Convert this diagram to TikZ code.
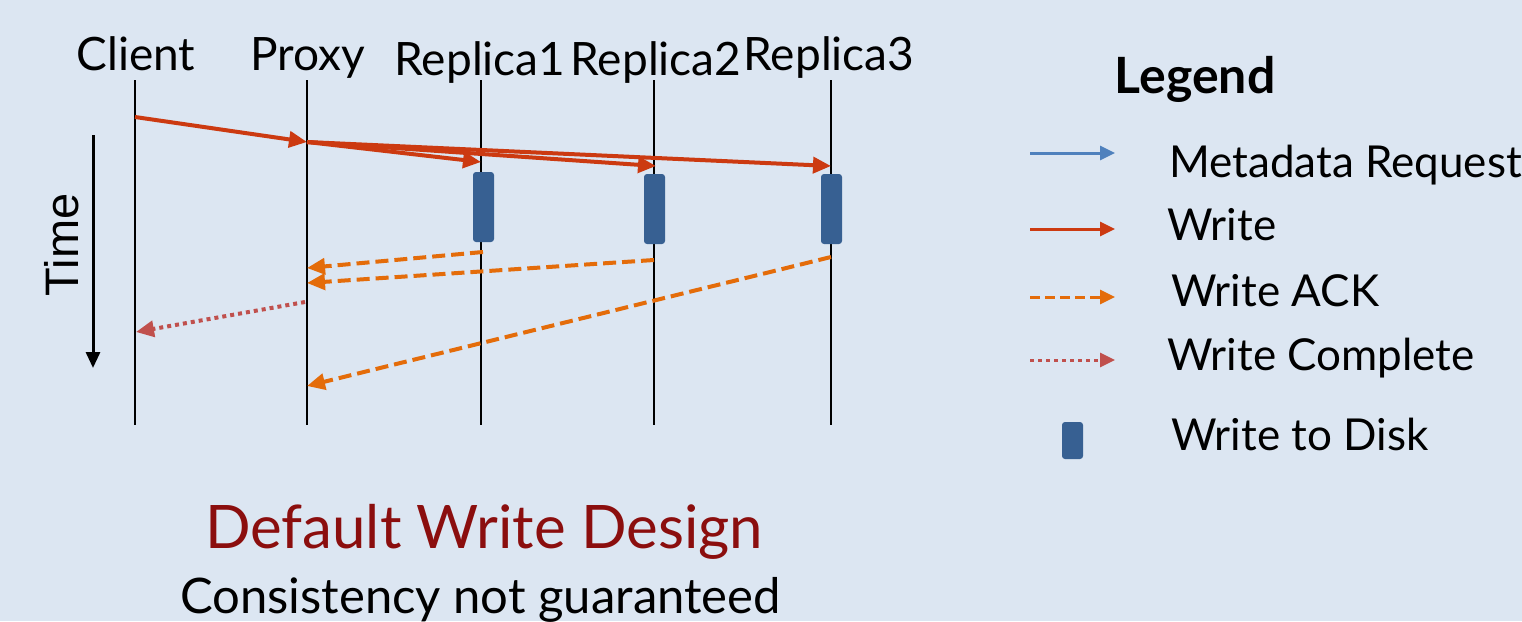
\documentclass[tikz,border=0pt]{standalone}
\usepackage{fontspec}
\setmainfont{Lato}
\newfontfamily\arialf{Liberation Sans}
\usetikzlibrary{arrows.meta}
\definecolor{bg}{HTML}{DCE6F2}
\definecolor{writec}{HTML}{CC3A11}
\definecolor{ackc}{HTML}{E46C0A}
\definecolor{compc}{HTML}{C0504D}
\definecolor{diskc}{HTML}{376092}
\definecolor{metac}{HTML}{4F81BD}
\definecolor{titlec}{HTML}{8B0E0E}
\begin{document}
\begin{tikzpicture}[x=1pt,y=-1pt,
  lifeline/.style={line width=1.8pt, black},
  hdr/.style={anchor=base, inner sep=0pt, font=\fontsize{46}{46}\selectfont},
  writearr/.style={writec, line width=4pt, -{Triangle[length=18pt,width=16pt]}},
  ackarr/.style={ackc, line width=4pt, dash pattern=on 13pt off 6pt, -{Triangle[length=18pt,width=16pt]}},
  comparr/.style={compc, line width=4pt, dash pattern=on 4pt off 4pt, -{Triangle[length=18pt,width=16pt]}},
  disk/.style={fill=diskc, draw=none, rounded corners=3pt, minimum width=21pt, minimum height=70pt, inner sep=0pt},
  legarr/.style={line width=3pt, -{Triangle[length=15pt,width=14pt]}},
  legtxt/.style={anchor=base west, inner sep=0pt, font=\fontsize{44}{44}\selectfont},
]
\fill[bg] (0,0) rectangle (1522,621);
\useasboundingbox (0,0) rectangle (1522,621);

% headers
\node[hdr] (hc) at (136,70.7) {Client};
\node[hdr] (hp) at (308,70.7) {Proxy};
\node[hdr] (hr1) at (480,75) {Replica1};
\node[hdr] (hr2) at (656,75) {Replica2};
\node[hdr] (hr3) at (829,70.7) {Replica3};

% lifelines
\coordinate (ct) at (135,80); \coordinate (cb) at (135,425);
\coordinate (pt) at (307,80); \coordinate (pb) at (307,425);
\coordinate (r1t) at (481,80); \coordinate (r1b) at (481,425);
\coordinate (r2t) at (654,80); \coordinate (r2b) at (654,425);
\coordinate (r3t) at (831,80); \coordinate (r3b) at (831,425);
\draw[lifeline] (ct) -- (cb);
\draw[lifeline] (pt) -- (pb);
\draw[lifeline] (r1t) -- (r1b);
\draw[lifeline] (r2t) -- (r2b);
\draw[lifeline] (r3t) -- (r3b);

% disks
\node[disk] (d1) at (483.5,207) {};
\node[disk] (d2) at (654.5,209) {};
\node[disk] (d3) at (831.5,209) {};

% message points
\coordinate (c1) at (135,117);
\coordinate (p1) at (307,142);
\coordinate (w1) at (481,162);
\coordinate (w2) at (656,166);
\coordinate (w3) at (831,166);
\coordinate (a1) at (483,252);
\coordinate (a2) at (654,260);
\coordinate (a3) at (831,257);
\coordinate (k1) at (307,268);
\coordinate (k2) at (307,283);
\coordinate (k3) at (307,386);
\coordinate (p5) at (305,302);
\coordinate (c2) at (136,332);

\draw[writearr] (c1) -- (p1);
\draw[writearr] (p1) -- (w3);
\draw[writearr] (p1) -- (w2);
\draw[writearr] (p1) -- (w1);
\draw[ackarr] (a1) -- (k1);
\draw[ackarr] (a2) -- (k2);
\draw[ackarr] (a3) -- (k3);
\draw[comparr] (p5) -- (c2);

% time axis
\coordinate (tt) at (93,135);
\coordinate (tb) at (93,368);
\draw[line width=3pt, black, -{Triangle[length=16pt,width=14pt]}] (tt) -- (tb);
\node[rotate=90, inner sep=0pt, font=\arialf\fontsize{47}{47}\selectfont] (time) at (62,245) {Time};

% legend
\node[anchor=base, inner sep=0pt, font=\bfseries\fontsize{50}{50}\selectfont] (leg) at (1195,93) {Legend};
\coordinate (lm1) at (1030,153); \coordinate (lm2) at (1115,153);
\coordinate (lw1) at (1030,229); \coordinate (lw2) at (1115,229);
\coordinate (la1) at (1030,297); \coordinate (la2) at (1115,297);
\coordinate (lc1) at (1030,360); \coordinate (lc2) at (1115,360);
\draw[legarr, metac] (lm1) -- (lm2);
\draw[legarr, writec] (lw1) -- (lw2);
\draw[legarr, ackc, dash pattern=on 10pt off 5pt] (la1) -- (la2);
\draw[legarr, compc, dash pattern=on 4pt off 4pt] (lc1) -- (lc2);
\node[disk, minimum height=37pt] (ld) at (1072.5,440.5) {};
\node[legtxt] (tm) at (1169,177) {Metadata Request};
\node[legtxt] (tw) at (1167,240) {Write};
\node[legtxt] (ta) at (1171,306) {Write ACK};
\node[legtxt] (tc) at (1167,370) {Write Complete};
\node[legtxt] (td) at (1171,450) {Write to Disk};

% title
\node[anchor=base, inner sep=0pt, text=titlec, font=\fontsize{60}{60}\selectfont] (title) at (484,548) {Default Write Design};
\node[anchor=base, inner sep=0pt, font=\fontsize{49}{49}\selectfont] (sub) at (480.5,613) {Consistency not guaranteed};
\end{tikzpicture}
\end{document}
